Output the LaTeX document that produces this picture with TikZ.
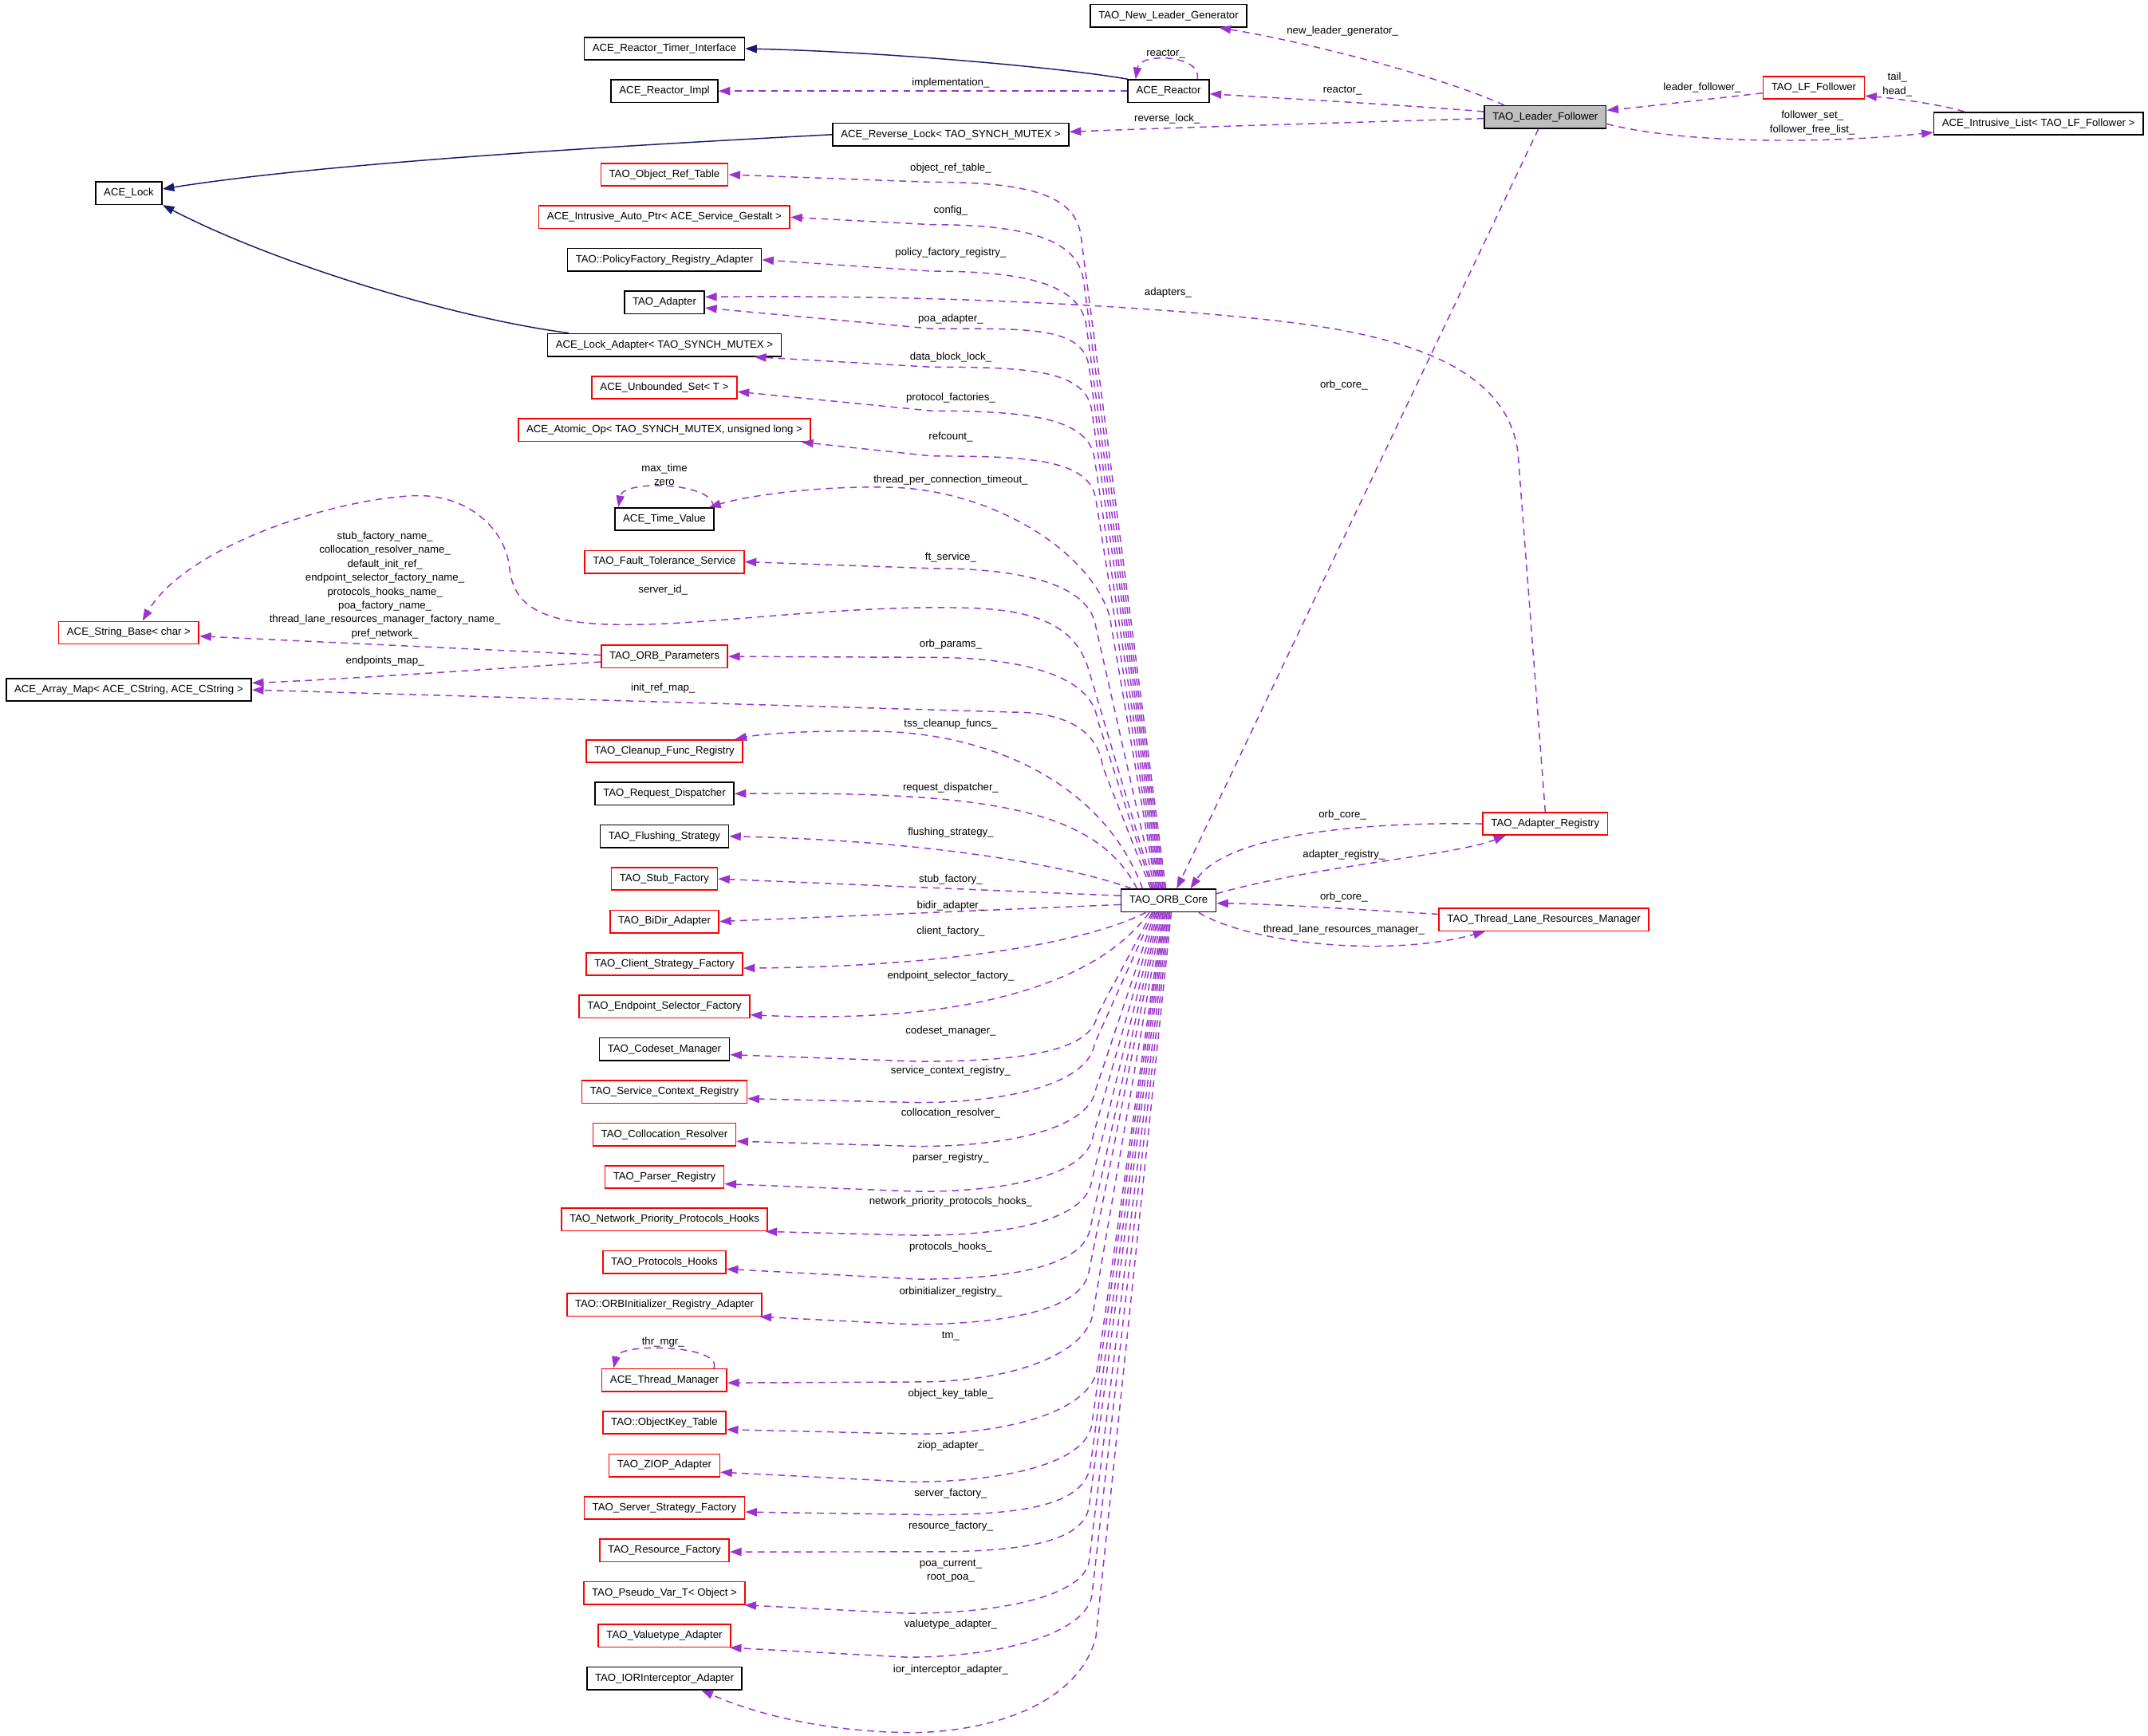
\documentclass[tikz,border=0pt]{standalone}
\usepackage{fontspec}
\setmainfont{Liberation Sans}
\usetikzlibrary{arrows.meta,positioning}
\definecolor{depcol}{HTML}{9A32CD}
\definecolor{inhcol}{HTML}{191970}
\definecolor{hlgray}{HTML}{BFBFBF}
\newcommand{\dg}{\fontsize{7.7}{10.17}\selectfont}

\begin{document}
\begin{tikzpicture}[x=1pt,y=-1pt,font=\dg,node distance=31.1pt,
    box/.style={draw=black,line width=0.95pt,fill=white,minimum height=16.5pt,inner xsep=6pt,inner ysep=0pt,text height=5.6pt,text depth=1.6pt},
    incbox/.style={box,draw=red},
    lbl/.style={inner sep=0pt,text height=5.6pt,text depth=1.6pt},
    mlbl/.style={inner sep=0pt,align=center},
    dep/.style={draw=depcol,line width=0.85pt,dash pattern=on 5pt off 3.8pt,-{Triangle[length=8.5pt,width=6pt]}},
    inh/.style={draw=inhcol,line width=0.85pt,-{Triangle[length=8.5pt,width=6pt]}}]
    \path[fill=white,use as bounding box] (0,0) rectangle (1568,1267);

    % top part
    \node[box] (nlg) at (853,11.5) {TAO\_New\_Leader\_Generator};
    \node[box] (timer) at (485,35.5) {ACE\_Reactor\_Timer\_Interface};
    \node[box] (rimpl) at (485,66.5) {ACE\_Reactor\_Impl};
    \node[box] (reactor) at (853,66.5) {ACE\_Reactor};
    \node[box] (revlock) at (694,98.25) {ACE\_Reverse\_Lock< TAO\_SYNCH\_MUTEX >};
    \node[box,fill=hlgray] (lf) at (1128,85.5) {TAO\_Leader\_Follower};
    \node[incbox] (lff) at (1324,64) {TAO\_LF\_Follower};
    \node[box] (ilist) at (1488,90.25) {ACE\_Intrusive\_List< TAO\_LF\_Follower >};
    \node[box] (acelock) at (94,141) {ACE\_Lock};
    \node[incbox] (sbase) at (94,462) {ACE\_String\_Base< char >};
    \node[box] (amap) at (94,503.7) {ACE\_Array\_Map< ACE\_CString, ACE\_CString >};

    % member column
    \node[incbox] (objref) at (485,127.5) {TAO\_Object\_Ref\_Table};
    \node[incbox] (autoptr) [below of=objref] {ACE\_Intrusive\_Auto\_Ptr< ACE\_Service\_Gestalt >};
    \node[box] (pfreg) [below of=autoptr] {TAO::PolicyFactory\_Registry\_Adapter};
    \node[box] (adapter) [below of=pfreg] {TAO\_Adapter};
    \node[box] (lockad) [below of=adapter] {ACE\_Lock\_Adapter< TAO\_SYNCH\_MUTEX >};
    \node[incbox] (unbset) [below of=lockad] {ACE\_Unbounded\_Set< T >};
    \node[incbox] (atomic) [below of=unbset] {ACE\_Atomic\_Op< TAO\_SYNCH\_MUTEX, unsigned long >};
    \node[box] (timeval) [node distance=65pt,below of=atomic] {ACE\_Time\_Value};
    \node[incbox] (ftserv) [below of=timeval] {TAO\_Fault\_Tolerance\_Service};
    \node[incbox] (params) [node distance=69.1pt,below of=ftserv] {TAO\_ORB\_Parameters};
    \node[incbox] (cleanup) [node distance=69.1pt,below of=params] {TAO\_Cleanup\_Func\_Registry};
    \node[box] (reqdisp) [below of=cleanup] {TAO\_Request\_Dispatcher};
    \node[box] (flush) [below of=reqdisp] {TAO\_Flushing\_Strategy};
    \node[incbox] (stub) [below of=flush] {TAO\_Stub\_Factory};
    \node[incbox] (bidir) [below of=stub] {TAO\_BiDir\_Adapter};
    \node[incbox] (client) [below of=bidir] {TAO\_Client\_Strategy\_Factory};
    \node[incbox] (endsel) [below of=client] {TAO\_Endpoint\_Selector\_Factory};
    \node[box] (codeset) [below of=endsel] {TAO\_Codeset\_Manager};
    \node[incbox] (svcctx) [below of=codeset] {TAO\_Service\_Context\_Registry};
    \node[incbox] (colloc) [below of=svcctx] {TAO\_Collocation\_Resolver};
    \node[incbox] (parser) [below of=colloc] {TAO\_Parser\_Registry};
    \node[incbox] (netprio) [below of=parser] {TAO\_Network\_Priority\_Protocols\_Hooks};
    \node[incbox] (prothooks) [below of=netprio] {TAO\_Protocols\_Hooks};
    \node[incbox] (orbinit) [below of=prothooks] {TAO::ORBInitializer\_Registry\_Adapter};
    \node[incbox] (thrmgr) [node distance=55pt,below of=orbinit] {ACE\_Thread\_Manager};
    \node[incbox] (objkey) [below of=thrmgr] {TAO::ObjectKey\_Table};
    \node[incbox] (ziop) [below of=objkey] {TAO\_ZIOP\_Adapter};
    \node[incbox] (svrstrat) [below of=ziop] {TAO\_Server\_Strategy\_Factory};
    \node[incbox] (resfact) [below of=svrstrat] {TAO\_Resource\_Factory};
    \node[incbox] (pseudo) [below of=resfact] {TAO\_Pseudo\_Var\_T< Object >};
    \node[incbox] (valtype) [below of=pseudo] {TAO\_Valuetype\_Adapter};
    \node[box] (iorint) [below of=valtype] {TAO\_IORInterceptor\_Adapter};

    % right part
    \node[box] (orb) at (853,657.5) {TAO\_ORB\_Core};
    \node[incbox] (areg) at (1128,601.5) {TAO\_Adapter\_Registry};
    \node[incbox] (tlrm) at (1127,671.5) {TAO\_Thread\_Lane\_Resources\_Manager};

    % inheritance
    \draw[inh] (reactor.north west) .. controls (780,50) and (650,38) .. (timer.east);
    \draw[inh] (revlock.west) .. controls (500,104) and (250,117) .. ([yshift=3pt]acelock.east);
    \draw[inh] ([xshift=16pt]lockad.north west) .. controls (330,232) and (200,192) .. (acelock.south east);

    % leader follower
    \draw[dep] ([xshift=-30pt]lf.north) .. controls (1050,55) and (950,30) .. ([xshift=37pt]nlg.south);
    \draw[dep] ([yshift=4pt]lf.west) .. controls (1030,77) and (940,72) .. ([yshift=-2pt]reactor.east);
    \draw[dep] ([yshift=-1pt]lf.west) .. controls (1000,89) and (860,93) .. ([yshift=2pt]revlock.east);
    \draw[dep] ([yshift=-4pt]lff.west) .. controls (1250,72) and (1200,78) .. ([yshift=5pt]lf.east);
    \draw[dep] ([yshift=-5pt]lf.east) .. controls (1230,105) and (1330,105) .. ([yshift=-6.5pt]ilist.west);
    \draw[dep] ([xshift=-54pt]ilist.north) .. controls (1415,76) and (1385,72) .. ([yshift=-6pt]lff.east);
    \draw[dep] ([xshift=21pt]reactor.north) .. controls (878,40) and (832,38) .. ([xshift=-24pt]reactor.north);
    \draw[dep] (reactor.west) -- (rimpl.east);
    \draw[dep] ([xshift=-5pt]lf.south) -- ([xshift=6pt]orb.north);

    % orb core, upper members
    \draw[dep] ([xshift=-2pt]orb.north) -- (789,172) .. controls +(-4,-30) and +(70,0) .. (680,133) -- (objref.east);
    \draw[dep] ([xshift=-3pt]orb.north) -- (791,205) .. controls +(-4,-30) and +(70,0) .. (680,164) -- (autoptr.east);
    \draw[dep] ([xshift=-4pt]orb.north) -- (793,238) .. controls +(-4,-30) and +(70,0) .. (680,198) -- (pfreg.east);
    \draw[dep] ([xshift=-5pt]orb.north) -- (795,268) .. controls +(-4,-30) and +(70,0) .. (680,240) -- ([yshift=-4pt]adapter.east);
    \draw[dep] ([xshift=-6pt]orb.north) -- (797,300) .. controls +(-4,-30) and +(70,0) .. (680,268) -- ([xshift=-20pt]lockad.south east);
    \draw[dep] ([xshift=-7pt]orb.north) -- (799,335) .. controls +(-4,-30) and +(70,0) .. (680,300) -- ([yshift=-3pt]unbset.east);
    \draw[dep] ([xshift=-8pt]orb.north) -- (800,365) .. controls +(-4,-30) and +(70,0) .. (680,333) -- ([xshift=-7pt]atomic.south east);
    \draw[dep] ([xshift=-9pt]orb.north) -- (810,450) .. controls (797,405) and (730,360) .. (655,356) .. controls (600,354) and (545,362) .. ([xshift=-4pt]timeval.north east);
    \draw[dep] ([xshift=-1pt]timeval.north east) .. controls (522,352) and (455,350) .. ([xshift=3pt]timeval.north west);
    \draw[dep] ([xshift=-10pt]orb.north) -- (800,458) .. controls +(-4,-30) and +(70,0) .. (680,415) -- (ftserv.east);
    \draw[dep] ([xshift=-11pt]orb.north) -- (795,490) .. controls (787,462) and (765,446) .. (710,444) .. controls (620,441) and (520,456) .. (462,456) .. controls (400,457) and (375,445) .. (372,415) .. controls (369,385) and (340,360) .. (301,362) .. controls (240,365) and (135,400) .. ([xshift=10pt]sbase.north);
    \draw[dep] ([xshift=-12pt]orb.north) -- (801,525) .. controls +(-4,-30) and +(70,0) .. (680,480) -- (params.east);
    \draw[dep] ([yshift=1pt]params.west) -- ([yshift=-2.5pt]sbase.east);
    \draw[dep] ([yshift=-4pt]params.west) .. controls (350,489) and (250,496) .. ([yshift=5pt]amap.east);
    \draw[dep] ([xshift=-13pt]orb.north) -- (805,560) .. controls +(-3,-25) and +(40,0) .. (740,520) -- (amap.east);
    \draw[dep] ([xshift=-19pt]orb.north) .. controls (805,570) and (720,535) .. (640,534) .. controls (590,533) and (555,536) .. ([xshift=-6pt]cleanup.north east);
    \draw[dep] ([xshift=-23pt]orb.north) .. controls (800,590) and (720,578) .. (reqdisp.east);
    \draw[dep] ([xshift=-27pt]orb.north) .. controls (780,632) and (680,614) .. (flush.east);
    \draw[dep] ([yshift=3.5pt]orb.west) -- (stub.east);
    \draw[dep] ([yshift=-3pt]orb.west) -- (bidir.east);

    % orb core, lower members
    \draw[dep] ([xshift=-16.5pt]orb.south) .. controls (790,690) and (680,706) .. ([yshift=-3pt]client.east);
    \draw[dep] ([xshift=-14pt]orb.south) .. controls (800,720) and (700,748) .. ([yshift=-6pt]endsel.east);
    \draw[dep] ([xshift=-12pt]orb.south) -- (801,741) .. controls +(-4,28) and +(70,0) .. (670,775) -- ([yshift=-4pt]codeset.east);
    \draw[dep] ([xshift=-11pt]orb.south) -- (799,762) .. controls +(-4,28) and +(70,0) .. (670,805) -- ([yshift=-5pt]svcctx.east);
    \draw[dep] ([xshift=-10pt]orb.south) -- (800,795) .. controls +(-4,28) and +(70,0) .. (670,837) -- ([yshift=-5pt]colloc.east);
    \draw[dep] ([xshift=-9pt]orb.south) -- (798,829) .. controls +(-4,28) and +(70,0) .. (670,870) -- ([yshift=-5pt]parser.east);
    \draw[dep] ([xshift=-8pt]orb.south) -- (797,862) .. controls +(-4,28) and +(70,0) .. (670,902) -- ([xshift=-2pt]netprio.south east);
    \draw[dep] ([xshift=-7pt]orb.south) -- (796,896) .. controls +(-4,28) and +(70,0) .. (670,934) -- ([yshift=-5pt]prothooks.east);
    \draw[dep] ([xshift=-6pt]orb.south) -- (795,928) .. controls +(-4,28) and +(70,0) .. (665,967) -- ([xshift=-2pt]orbinit.south east);
    \draw[dep] ([xshift=-5pt]orb.south) -- (798,958) .. controls +(-4,30) and +(70,0) .. (670,1009) -- ([yshift=-2pt]thrmgr.east);
    \draw[dep] ([xshift=-10pt]thrmgr.north east) .. controls (528,982) and (452,980) .. ([xshift=9pt]thrmgr.north west);
    \draw[dep] ([xshift=-4pt]orb.south) -- (801,999) .. controls +(-4,30) and +(70,0) .. (670,1047) -- ([yshift=-5pt]objkey.east);
    \draw[dep] ([xshift=-3pt]orb.south) -- (797,1040) .. controls +(-4,28) and +(70,0) .. (665,1082) -- ([yshift=-5pt]ziop.east);
    \draw[dep] ([xshift=-2pt]orb.south) -- (796,1070) .. controls +(-4,28) and +(70,0) .. (680,1106) -- ([yshift=-3pt]svrstrat.east);
    \draw[dep] ([xshift=-1pt]orb.south) -- (795,1100) .. controls +(-4,25) and +(70,0) .. (680,1133) -- ([yshift=-1pt]resfact.east);
    \draw[dep] (orb.south) -- (795,1140) .. controls +(-4,25) and +(70,0) .. (662,1178) -- ([xshift=-1pt]pseudo.south east);
    \draw[dep] ([xshift=1pt]orb.south) -- (797,1165) .. controls +(-4,27) and +(70,0) .. (662,1210) -- ([xshift=-1pt]valtype.south east);
    \draw[dep] ([xshift=2pt]orb.south) -- (800,1195) .. controls (788,1245) and (720,1266) .. (660,1265) .. controls (610,1264) and (560,1255) .. ([xshift=27pt]iorint.south);

    % registries
    \draw[dep] (areg.west) .. controls (990,600) and (895,610) .. ([xshift=16pt]orb.north);
    \draw[dep] ([yshift=5pt]orb.east) .. controls (960,632) and (1060,625) .. ([xshift=-29pt]areg.south);
    \draw[dep] ([yshift=4pt]tlrm.west) .. controls (990,664) and (930,660) .. ([yshift=-2pt]orb.east);
    \draw[dep] ([xshift=22pt]orb.south) .. controls (910,688) and (1010,700) .. ([xshift=-43pt]tlrm.south);
    \draw[dep] (areg.north) -- (1108,330) .. controls (1100,270) and (1030,245) .. (930,234) .. controls (850,225) and (700,215) .. ([yshift=4pt]adapter.east);

    % edge labels
    \node[lbl] (l-nlg) at (980,22.7) {new\_leader\_generator\_};
    \node[lbl] (l-rself) at (851,38.8) {reactor\_};
    \node[lbl] (l-impl) at (694,60.7) {implementation\_};
    \node[lbl] (l-react) at (980,66) {reactor\_};
    \node[lbl] (l-rlock) at (852,86.8) {reverse\_lock\_};
    \node[lbl] (l-lfol) at (1242.5,64) {leader\_follower\_};
    \node[mlbl] (l-head) at (1385,61.6) {tail\_\\head\_};
    \node[mlbl] (l-fset) at (1323,89.6) {follower\_set\_\\follower\_free\_list\_};
    \node[lbl] (l-lforb) at (981,281) {orb\_core\_};
    \node[lbl] (l-objref) at (694,122.7) {object\_ref\_table\_};
    \node[lbl] (l-config) at (694,153.9) {config\_};
    \node[lbl] (l-pfreg) at (694,184.8) {policy\_factory\_registry\_};
    \node[lbl] (l-adapters) at (852.6,213.5) {adapters\_};
    \node[lbl] (l-poa) at (694,233.2) {poa\_adapter\_};
    \node[lbl] (l-dbl) at (694,261) {data\_block\_lock\_};
    \node[lbl] (l-protf) at (694,290.3) {protocol\_factories\_};
    \node[lbl] (l-refc) at (694,319) {refcount\_};
    \node[mlbl] (l-tv) at (485,346.5) {max\_time\\zero};
    \node[lbl] (l-tpct) at (694,350.8) {thread\_per\_connection\_timeout\_};
    \node[lbl] (l-ft) at (694,407.2) {ft\_service\_};
    \node[mlbl] (l-names) at (281,427.3) {stub\_factory\_name\_\\collocation\_resolver\_name\_\\default\_init\_ref\_\\endpoint\_selector\_factory\_name\_\\protocols\_hooks\_name\_\\poa\_factory\_name\_\\thread\_lane\_resources\_manager\_factory\_name\_\\pref\_network\_};
    \node[lbl] (l-sid) at (484,430.7) {server\_id\_};
    \node[lbl] (l-params) at (694,470.3) {orb\_params\_};
    \node[lbl] (l-epmap) at (281,482.5) {endpoints\_map\_};
    \node[lbl] (l-irmap) at (484,502.5) {init\_ref\_map\_};
    \node[lbl] (l-tss) at (694,528.5) {tss\_cleanup\_funcs\_};
    \node[lbl] (l-reqd) at (694,575) {request\_dispatcher\_};
    \node[lbl] (l-aregorb) at (980,595) {orb\_core\_};
    \node[lbl] (l-flush) at (694,607.9) {flushing\_strategy\_};
    \node[lbl] (l-areg) at (981,624) {adapter\_registry\_};
    \node[lbl] (l-stub) at (694,642.2) {stub\_factory\_};
    \node[lbl] (l-tlrmorb) at (981,655) {orb\_core\_};
    \node[lbl] (l-bidir) at (694,661.2) {bidir\_adapter\_};
    \node[lbl] (l-tlrm) at (981,679) {thread\_lane\_resources\_manager\_};
    \node[lbl] (l-client) at (694,680) {client\_factory\_};
    \node[lbl] (l-endsel) at (694,712.6) {endpoint\_selector\_factory\_};
    \node[lbl] (l-codeset) at (694,752.6) {codeset\_manager\_};
    \node[lbl] (l-svcctx) at (694,782) {service\_context\_registry\_};
    \node[lbl] (l-colloc) at (694,812.6) {collocation\_resolver\_};
    \node[lbl] (l-parser) at (694,845.2) {parser\_registry\_};
    \node[lbl] (l-netprio) at (694,877.5) {network\_priority\_protocols\_hooks\_};
    \node[lbl] (l-prothooks) at (694,910.6) {protocols\_hooks\_};
    \node[lbl] (l-orbinit) at (694,943) {orbinitializer\_registry\_};
    \node[lbl] (l-tm) at (694,975.3) {tm\_};
    \node[lbl] (l-thrmgr) at (484,979.8) {thr\_mgr\_};
    \node[lbl] (l-objkey) at (694,1018) {object\_key\_table\_};
    \node[lbl] (l-ziop) at (694,1055.4) {ziop\_adapter\_};
    \node[lbl] (l-svr) at (694,1090.5) {server\_factory\_};
    \node[lbl] (l-res) at (694,1114.6) {resource\_factory\_};
    \node[mlbl] (l-poa2) at (694,1147) {poa\_current\_\\root\_poa\_};
    \node[lbl] (l-valtype) at (694,1186) {valuetype\_adapter\_};
    \node[lbl] (l-ior) at (694,1219.5) {ior\_interceptor\_adapter\_};
\end{tikzpicture}
\end{document}
